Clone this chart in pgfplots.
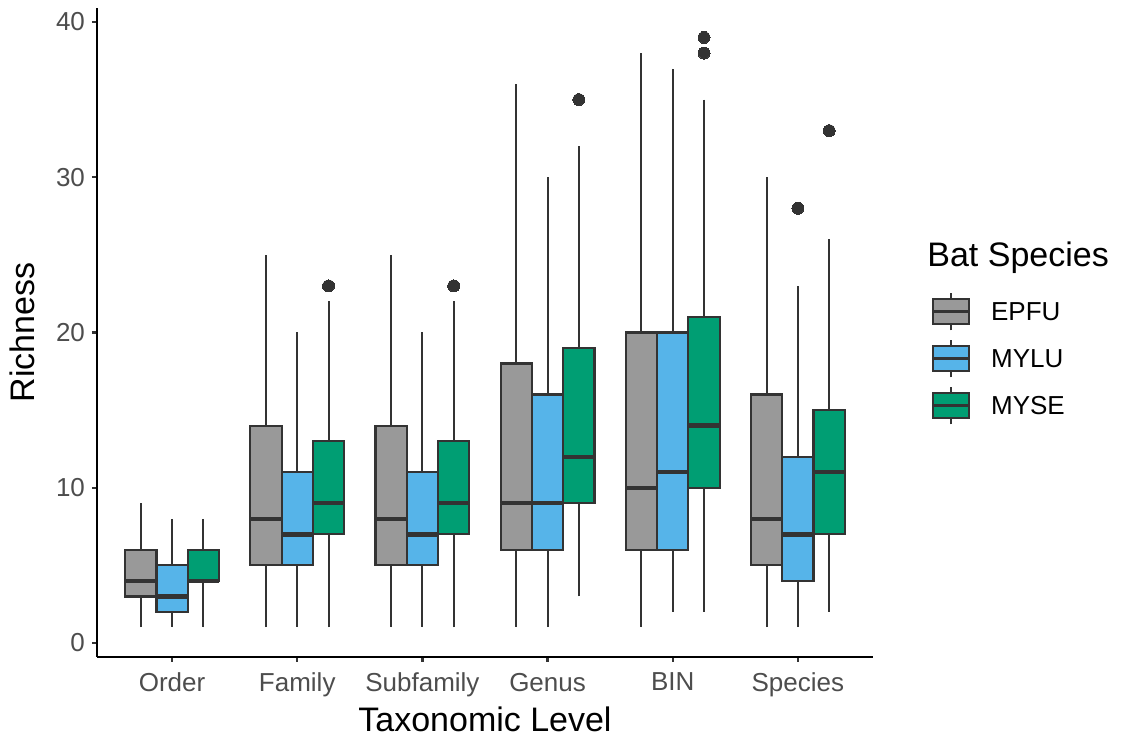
\documentclass[border=0pt]{standalone}
\usepackage{fontspec}
\setmainfont{Liberation Sans}
\usepackage{pgfplots}
\pgfplotsset{compat=1.18}
\usepgfplotslibrary{statistics}

\definecolor{epfu}{HTML}{999999}
\definecolor{mylu}{HTML}{56B4E9}
\definecolor{myse}{HTML}{009E73}
\definecolor{edge}{HTML}{333333}
\definecolor{ticklab}{HTML}{4D4D4D}

% legend key: box with median and whiskers
\newcommand{\legkey}[1]{%
  \draw[edge, line width=1pt] (9.15pt,-8.75pt) -- (9.15pt,10.05pt);
  \draw[edge, fill=#1, line width=1.1pt] (0pt,-5.45pt) rectangle (18.3pt,6.75pt);
  \draw[edge, line width=1.1pt] (0pt,0.65pt) -- (18.3pt,0.65pt);
  \path[draw=none, fill=none] (0pt,0.65pt) -- (29.2pt,0.65pt);
}

\pgfplotsset{
  bx/.style={forget plot, solid, draw=edge, fill=#1, line width=1.1pt,
    mark=*, mark size=3pt, mark options={draw=edge, fill=edge, line width=0pt},
    boxplot/draw direction=y,
    boxplot/box extend=0.25, boxplot/whisker extend=0,
    boxplot/every whisker/.style={line width=1pt},
    boxplot/every median/.style={line width=2.2pt}},
}

\begin{document}
\begin{tikzpicture}
\begin{axis}[
  scale only axis,
  width=388pt, height=324.5pt,
  xmin=0.4, xmax=6.6,
  ymin=-0.9, ymax=40.9,
  clip mode=individual,
  axis x line=bottom, axis y line=left,
  axis line style={black, line width=1.1pt, -},
  tick align=outside,
  major tick length=2.5pt,
  tick style={draw=edge, line width=1.1pt},
  xtick={1,2,3,4,5,6},
  xticklabels={Order,Family,Subfamily,Genus,BIN,Species},
  ytick={0,10,20,30,40},
  /pgf/number format/assume math mode=true,
  ticklabel style={font=\fontsize{13}{15.6}\selectfont, text=ticklab},
  xticklabel style={yshift=-2pt},
  xlabel={Taxonomic Level},
  ylabel={Richness},
  label style={font=\fontsize{17}{20.4}\selectfont},
  xlabel style={at={(axis description cs:0.5,-0.0955)}, anchor=center, inner sep=0pt},
  ylabel style={at={(axis description cs:-0.096,0.5)}, anchor=center, inner sep=0pt},
  legend style={at={(axis description cs:1.0756,0.5629)}, anchor=north west,
    draw=none, fill=none, inner sep=0pt, outer sep=0pt,
    font=\fontsize{13}{15.6}\selectfont, row sep=3.7pt,
    nodes={inner sep=0pt}},
  legend cell align=left,
]
% Order
\addplot[bx=epfu, boxplot prepared={draw position=0.75, lower whisker=1, lower quartile=3, median=4, upper quartile=6, upper whisker=9}] coordinates {};
\addplot[bx=mylu, boxplot prepared={draw position=1, lower whisker=1, lower quartile=2, median=3, upper quartile=5, upper whisker=8}] coordinates {};
\addplot[bx=myse, boxplot prepared={draw position=1.25, lower whisker=1, lower quartile=4, median=4, upper quartile=6, upper whisker=8}] coordinates {};
% Family
\addplot[bx=epfu, boxplot prepared={draw position=1.75, lower whisker=1, lower quartile=5, median=8, upper quartile=14, upper whisker=25}] coordinates {};
\addplot[bx=mylu, boxplot prepared={draw position=2, lower whisker=1, lower quartile=5, median=7, upper quartile=11, upper whisker=20}] coordinates {};
\addplot[bx=myse, boxplot prepared={draw position=2.25, lower whisker=1, lower quartile=7, median=9, upper quartile=13, upper whisker=22}] table[row sep=\\, y index=0] {23\\};
% Subfamily
\addplot[bx=epfu, boxplot prepared={draw position=2.75, lower whisker=1, lower quartile=5, median=8, upper quartile=14, upper whisker=25}] coordinates {};
\addplot[bx=mylu, boxplot prepared={draw position=3, lower whisker=1, lower quartile=5, median=7, upper quartile=11, upper whisker=20}] coordinates {};
\addplot[bx=myse, boxplot prepared={draw position=3.25, lower whisker=1, lower quartile=7, median=9, upper quartile=13, upper whisker=22}] table[row sep=\\, y index=0] {23\\};
% Genus
\addplot[bx=epfu, boxplot prepared={draw position=3.75, lower whisker=1, lower quartile=6, median=9, upper quartile=18, upper whisker=36}] coordinates {};
\addplot[bx=mylu, boxplot prepared={draw position=4, lower whisker=1, lower quartile=6, median=9, upper quartile=16, upper whisker=30}] coordinates {};
\addplot[bx=myse, boxplot prepared={draw position=4.25, lower whisker=3, lower quartile=9, median=12, upper quartile=19, upper whisker=32}] table[row sep=\\, y index=0] {35\\};
% BIN
\addplot[bx=epfu, boxplot prepared={draw position=4.75, lower whisker=1, lower quartile=6, median=10, upper quartile=20, upper whisker=38}] coordinates {};
\addplot[bx=mylu, boxplot prepared={draw position=5, lower whisker=2, lower quartile=6, median=11, upper quartile=20, upper whisker=37}] coordinates {};
\addplot[bx=myse, boxplot prepared={draw position=5.25, lower whisker=2, lower quartile=10, median=14, upper quartile=21, upper whisker=35}] table[row sep=\\, y index=0] {38\\ 39\\};
% Species
\addplot[bx=epfu, boxplot prepared={draw position=5.75, lower whisker=1, lower quartile=5, median=8, upper quartile=16, upper whisker=30}] coordinates {};
\addplot[bx=mylu, boxplot prepared={draw position=6, lower whisker=1, lower quartile=4, median=7, upper quartile=12, upper whisker=23}] table[row sep=\\, y index=0] {28\\};
\addplot[bx=myse, boxplot prepared={draw position=6.25, lower whisker=2, lower quartile=7, median=11, upper quartile=15, upper whisker=26}] table[row sep=\\, y index=0] {33\\};

\addlegendimage{legend image code/.code={\legkey{epfu}}}
\addlegendentry{EPFU}
\addlegendimage{legend image code/.code={\legkey{mylu}}}
\addlegendentry{MYLU}
\addlegendimage{legend image code/.code={\legkey{myse}}}
\addlegendentry{MYSE}

\node[anchor=base west, inner sep=0pt, font=\fontsize{17}{20.4}\selectfont]
  at (axis description cs:1.0696,0.6014) {Bat Species};
\end{axis}
\pgfresetboundingbox
\path (-48.5pt,-40.5pt) rectangle (512pt,328.5pt);
\end{tikzpicture}
\end{document}
